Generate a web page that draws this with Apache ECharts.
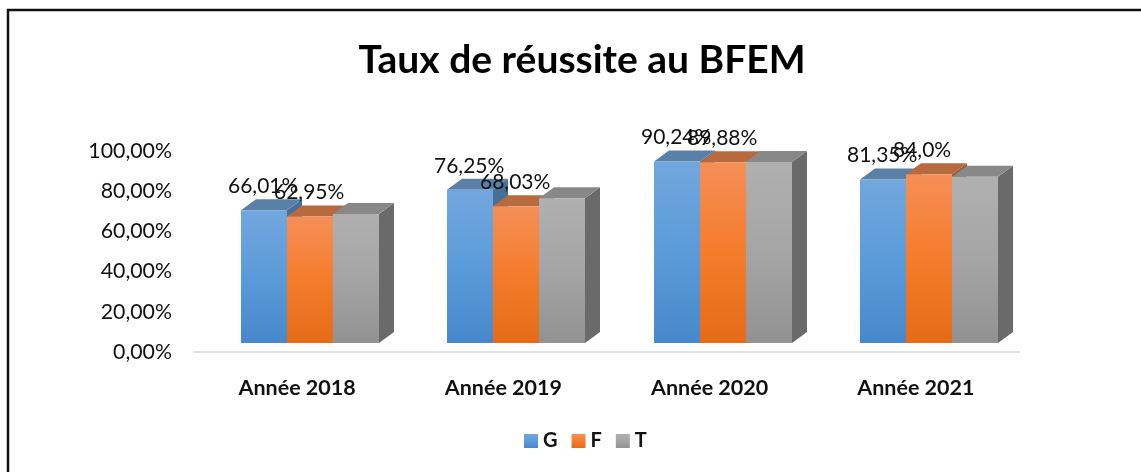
<!DOCTYPE html>
<html><head><meta charset="utf-8">
<style>html,body{margin:0;padding:0;background:#fff}#c{width:1141px;height:472px}</style>
<script src="https://cdn.jsdelivr.net/npm/echarts@6/dist/echarts.min.js"></script>
</head><body><div id="c"></div>
<script>
var titleText = 'Taux de réussite au BFEM';
var categories = ['Année 2018', 'Année 2019', 'Année 2020', 'Année 2021'];
var valuesG = [66.01, 76.25, 90.24, 81.35];
var valuesF = [62.95, 68.03, 89.88, 84.0];
var valuesT = [64.2, 72.0, 90.0, 82.7];
var labelsG = ['66,01%', '76,25%', '90,24%', '81,35%'];
var labelsF = ['62,95%', '68,03%', '89,88%', '84,0%'];
var labelsT = [null, null, null, null];

var FONT = 'Lato,"Open Sans",sans-serif';
var DEPTH_X = 15, DEPTH_Y = 11, SHIFT_X = 13, SHIFT_Y = 9, BAR_FRAC = 46 / 206.25;

function grad(c1, c2, c3) {
  return { type: 'linear', x: 0, y: 0, x2: 0, y2: 1,
    colorStops: [{ offset: 0, color: c1 }, { offset: 0.5, color: c2 }, { offset: 1, color: c3 }] };
}
function barSeries(name, values, labels, slot, front, top, side) {
  return {
    name: name, type: 'custom', coordinateSystem: 'cartesian2d',
    itemStyle: { color: front },
    encode: { x: 0, y: 1 },
    data: values.map(function (v, i) { return [i, v]; }),
    silent: true,
    renderItem: function (params, api) {
      var idx = api.value(0), val = api.value(1);
      var band = api.size([1, 0])[0], w = Math.round(band * BAR_FRAC);
      var p = api.coord([idx, val]), b = api.coord([idx, 0]);
      var x0 = Math.round(p[0] + SHIFT_X - 1.5 * w) + slot * w, x1 = x0 + w;
      var yt = p[1] - SHIFT_Y, yb = b[1] - SHIFT_Y;
      var kids = [
        { type: 'polygon', shape: { points: [[x1, yt], [x1 + DEPTH_X, yt - DEPTH_Y], [x1 + DEPTH_X, yb - DEPTH_Y], [x1, yb]] }, style: { fill: side } },
        { type: 'polygon', shape: { points: [[x0, yt], [x0 + DEPTH_X, yt - DEPTH_Y], [x1 + DEPTH_X, yt - DEPTH_Y], [x1, yt]] }, style: { fill: top } },
        { type: 'rect', shape: { x: x0, y: yt, width: w, height: yb - yt }, style: { fill: front } }
      ];
      var t = labels[idx];
      if (t) kids.push({ type: 'text', z2: 50, x: x0 + w / 2 - 36, y: yt - 24,
        style: { text: t, fill: '#111', font: '21px ' + FONT, textAlign: 'left', textVerticalAlign: 'middle' } });
      return { type: 'group', children: kids };
    }
  };
}

var chart = echarts.init(document.getElementById('c'), null, { renderer: 'canvas' });
chart.setOption({
  animation: false,
  backgroundColor: '#fff',
  title: { text: titleText, left: 577, top: 36, textAlign: 'center',
    textStyle: { fontFamily: FONT, fontSize: 39, fontWeight: 'bold', color: '#000' } },
  legend: { data: ['G', 'F', 'T'], left: 524, top: 431, padding: 0, itemWidth: 14, itemHeight: 14, itemGap: 14, icon: 'rect',
    textStyle: { fontFamily: FONT, fontSize: 20, fontWeight: 'bold', color: '#111' } },
  grid: { left: 194, width: 825, top: 151, height: 201 },
  xAxis: { type: 'category', data: categories,
    axisLine: { lineStyle: { color: '#dfe3e8', width: 2 } }, axisTick: { show: false }, splitLine: { show: false },
    axisLabel: { margin: 25, fontFamily: FONT, fontSize: 21.5, fontWeight: 'bold', color: '#111' } },
  yAxis: { type: 'value', min: 0, max: 100, interval: 20,
    axisLine: { show: false }, axisTick: { show: false }, splitLine: { show: false },
    axisLabel: { margin: 22, padding: [5, 0, 0, 0], fontFamily: FONT, fontSize: 21.3, color: '#111',
      formatter: function (v) { return v + ',00%'; } } },
  graphic: [
    { type: 'line', shape: { x1: 7, y1: 10, x2: 1141, y2: 10 }, style: { stroke: '#111', lineWidth: 2.5 } },
    { type: 'line', shape: { x1: 8, y1: 9, x2: 8, y2: 472 }, style: { stroke: '#111', lineWidth: 2.5 } }
  ],
  series: [
    barSeries('G', valuesG, labelsG, 0, grad('#72a7de', '#5b9bd9', '#4788cc'), '#5a80a8', '#477099'),
    barSeries('F', valuesF, labelsF, 1, grad('#f58f58', '#f57c2c', '#e56b17'), '#b86a3f', '#a15a32'),
    barSeries('T', valuesT, labelsT, 2, grad('#b0b0b0', '#a5a5a5', '#929292'), '#888888', '#6a6a6a')
  ]
});
</script></body></html>
